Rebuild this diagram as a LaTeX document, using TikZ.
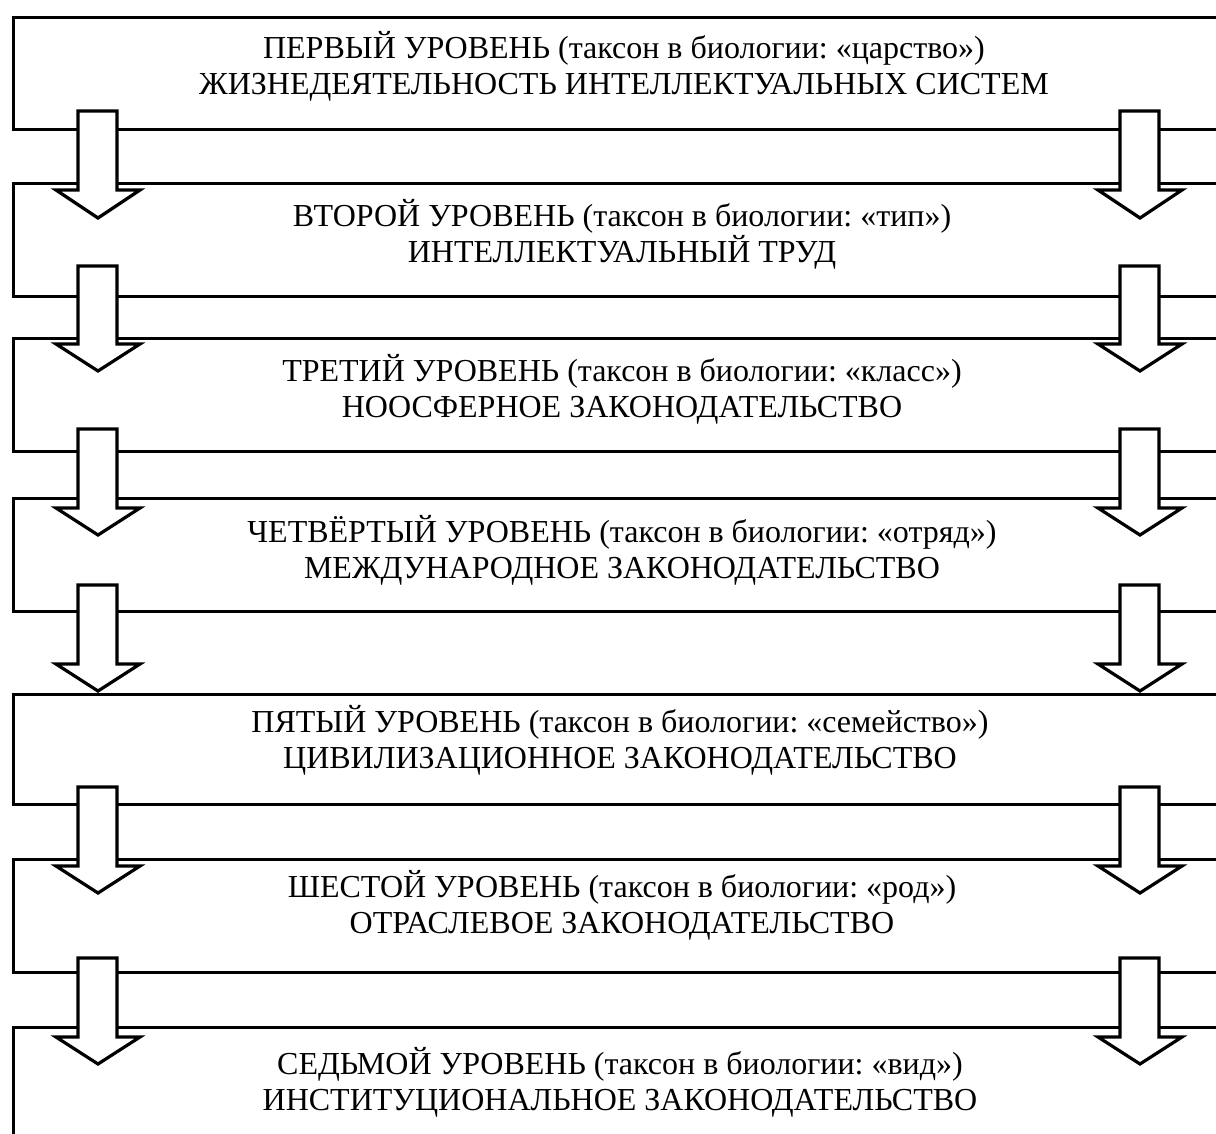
\documentclass[tikz,border=0pt]{standalone}
\usepackage{fontspec}
\setmainfont{Liberation Serif}
\frenchspacing
\begin{document}
\begin{tikzpicture}[x=1pt,y=-1pt,
  boxline/.style={draw=black,line width=3pt},
  blockarrow/.style={draw=black,fill=white,line width=3.2pt,line join=miter},
  label/.style={align=center,font=\fontsize{32}{36}\selectfont\frenchspacing,inner sep=0pt}]
\useasboundingbox[fill=white] (0,0) rectangle (1216,1133);
\clip (0,0) rectangle (1216,1133);
% boxes
\foreach \n/\t/\b in {1/17/129,2/183/296,3/338/451,4/498/611,5/694/804,6/859/972,7/1027/1250}{
  \draw[boxline] (13,\t) rectangle (1245,\b);
}
% texts
\node[label] (t1) at (624,66) {ПЕРВЫЙ УРОВЕНЬ (таксон в биологии: «царство»)\\ЖИЗНЕДЕЯТЕЛЬНОСТЬ ИНТЕЛЛЕКТУАЛЬНЫХ СИСТЕМ};
\node[label] (t2) at (622,234) {ВТОРОЙ УРОВЕНЬ (таксон в биологии: «тип»)\\ИНТЕЛЛЕКТУАЛЬНЫЙ ТРУД};
\node[label] (t3) at (622,389) {ТРЕТИЙ УРОВЕНЬ (таксон в биологии: «класс»)\\НООСФЕРНОЕ ЗАКОНОДАТЕЛЬСТВО};
\node[label] (t4) at (622,550) {ЧЕТВЁРТЫЙ УРОВЕНЬ (таксон в биологии: «отряд»)\\МЕЖДУНАРОДНОЕ ЗАКОНОДАТЕЛЬСТВО};
\node[label] (t5) at (620,740) {ПЯТЫЙ УРОВЕНЬ (таксон в биологии: «семейство»)\\ЦИВИЛИЗАЦИОННОЕ ЗАКОНОДАТЕЛЬСТВО};
\node[label] (t6) at (622,905) {ШЕСТОЙ УРОВЕНЬ (таксон в биологии: «род»)\\ОТРАСЛЕВОЕ ЗАКОНОДАТЕЛЬСТВО};
\node[label] (t7) at (620,1082) {СЕДЬМОЙ УРОВЕНЬ (таксон в биологии: «вид»)\\ИНСТИТУЦИОНАЛЬНОЕ ЗАКОНОДАТЕЛЬСТВО};
% block arrows: top / head base / tip
\foreach \top/\hb/\tip in {111/190/218,266/344/371,429/508/535,585/664/691,787/866/893,958/1037/1064}{
  \draw[blockarrow] (78,\top) -- (117,\top) -- (117,\hb) -- (140,\hb) -- (98,\tip) -- (56,\hb) -- (78,\hb) -- cycle;
  \draw[blockarrow] (1120,\top) -- (1159,\top) -- (1159,\hb) -- (1182,\hb) -- (1140,\tip) -- (1098,\hb) -- (1120,\hb) -- cycle;
}
\end{tikzpicture}
\end{document}
